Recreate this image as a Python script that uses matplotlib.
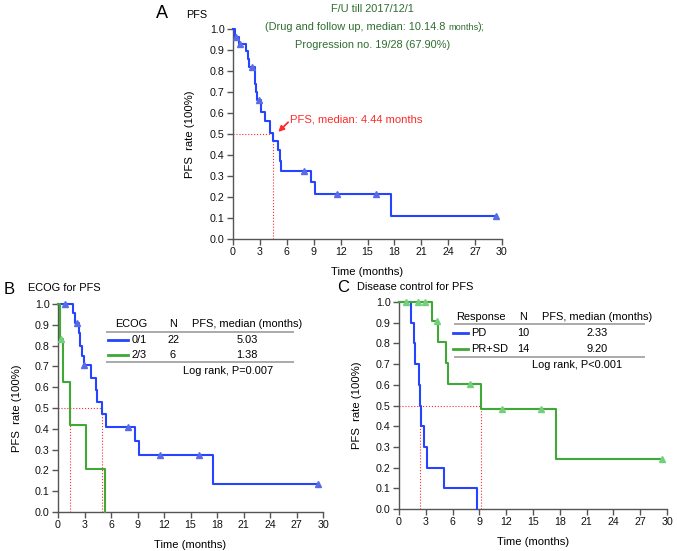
import numpy as np
import matplotlib
matplotlib.use("Agg")
import matplotlib.pyplot as plt
from matplotlib.lines import Line2D

plt.rcParams['font.family'] = ['Liberation Sans', 'DejaVu Sans']

# ---------------- data ----------------
# Panel A: overall PFS
A_event_t = [0.22, 0.63, 1.41, 1.63, 1.80, 2.40, 2.55, 2.70, 3.15, 3.62, 4.10, 4.44, 4.98, 5.20, 5.40, 8.70, 9.18, 17.60]
A_surv    = [0.964, 0.929, 0.893, 0.857, 0.818, 0.737, 0.700, 0.660, 0.606, 0.560, 0.505, 0.466, 0.424, 0.370, 0.325, 0.270, 0.216, 0.108]
A_censor_t = [0.35, 0.80, 2.08, 2.85, 7.96, 11.6, 15.9, 29.3]
A_median = 4.44

# Panel B: ECOG
B1_event_t = [1.70, 1.95, 2.38, 2.53, 2.75, 2.90, 3.77, 4.26, 4.42, 5.03, 5.47, 8.75, 9.17, 17.55]
B1_surv    = [0.955, 0.909, 0.860, 0.800, 0.750, 0.705, 0.645, 0.585, 0.528, 0.470, 0.411, 0.342, 0.274, 0.137]
B1_censor_t = [0.83, 2.20, 2.98, 7.96, 11.6, 15.96, 29.4]
B2_event_t = [0.19, 0.57, 1.38, 3.20, 5.32]
B2_surv    = [0.833, 0.625, 0.417, 0.208, 0.0]
B2_censor_t = [0.30]
B_medians = [5.03, 1.38]
B_groups = ["0/1", "2/3"]
B_n = [22, 6]
B_med_txt = ["5.03", "1.38"]

# Panel C: disease control
C1_event_t = [1.30, 1.64, 1.75, 2.24, 2.33, 2.50, 2.76, 3.17, 5.00, 8.70]
C1_surv    = [0.9, 0.8, 0.7, 0.6, 0.5, 0.4, 0.3, 0.2, 0.1, 0.0]
C2_event_t = [3.73, 4.37, 5.22, 5.45, 9.20, 17.60]
C2_surv    = [0.909, 0.808, 0.707, 0.606, 0.485, 0.242]
C2_censor_t = [0.78, 2.09, 2.87, 4.20, 7.95, 11.57, 15.9, 29.4]
C_medians = [2.33, 9.20]
C_groups = ["PD", "PR+SD"]
C_n = [10, 14]
C_med_txt = ["2.33", "9.20"]

x_ticks = list(range(0, 31, 3))
y_ticks = [i / 10 for i in range(11)]

# ---------------- style ----------------
BLUE = "#2444ff"
BLUE_M = "#5a6be6"
GREEN = "#3fa836"
GREEN_M = "#72d07c"
RED = "#ff2a2a"
DKGREEN = "#2f6e30"
GREY = "#555555"
FS = 7.9

W, H = 677, 551
fig = plt.figure(figsize=(W / 100, H / 100), dpi=100)


def fx(x):
    return x / W


def fy(y):
    return 1 - y / H


def step_xy(ev_t, surv, end_t=None):
    t = [0.0] + list(ev_t)
    s = [1.0] + list(surv)
    if end_t is not None and end_t > t[-1]:
        t.append(end_t)
        s.append(s[-1])
    return t, s


def surv_at(ev_t, surv, t):
    idx = np.searchsorted(np.array(ev_t), t, side='right')
    vals = [1.0] + list(surv)
    return vals[idx]


def draw_km(ax, ev_t, surv, cens_t, color, mcolor):
    end_t = max(cens_t) if cens_t else None
    t, s = step_xy(ev_t, surv, end_t)
    ax.step(t, s, where='post', color=color, lw=1.5, clip_on=False, zorder=3)
    if cens_t:
        cy = [surv_at(ev_t, surv, c) for c in cens_t]
        ax.plot(cens_t, cy, linestyle='none', marker='^', ms=4.5,
                color=mcolor, mec=mcolor, clip_on=False, zorder=4)


def style_ax(ax, xl_y, yl_x):
    ax.set_xlim(0, 30)
    ax.set_ylim(0, 1.0)
    ax.set_xticks(x_ticks)
    ax.set_yticks(y_ticks)
    ax.set_yticklabels([f"{v:.1f}" for v in y_ticks])
    for sp in ['top', 'right']:
        ax.spines[sp].set_visible(False)
    for sp in ['left', 'bottom']:
        ax.spines[sp].set_color(GREY)
        ax.spines[sp].set_linewidth(1.0)
    ax.tick_params(direction='out', length=4, width=1.0, color=GREY,
                   labelsize=7.7, pad=2, labelcolor='#111111')
    ax.set_xlabel("Time (months)", fontsize=8.1)
    ax.set_ylabel("PFS  rate (100%)", fontsize=8.1)
    ax.xaxis.set_label_coords(0.5, xl_y)
    ax.yaxis.set_label_coords(yl_x, 0.5)
    ax.patch.set_alpha(0)


def median_lines(ax, meds):
    ax.plot([0, max(meds)], [0.5, 0.5], color=RED, lw=0.8, ls=':', zorder=2)
    for m in meds:
        ax.plot([m, m], [0, 0.5], color=RED, lw=0.8, ls=':', zorder=2)


# ---------------- Panel A ----------------
axA = fig.add_axes([fx(233), fy(239), 269 / W, 210 / H])
median_lines(axA, [A_median])
draw_km(axA, A_event_t, A_surv, A_censor_t, BLUE, BLUE_M)
style_ax(axA, -0.135, -0.14)
axA.annotate('', xy=(5.05, 0.51), xytext=(6.15, 0.556),
             arrowprops=dict(arrowstyle='-|>', color=RED, lw=1.3, mutation_scale=8,
                             shrinkA=0, shrinkB=0))
axA.text(6.35, 0.567, f"PFS, median: {A_median} months", color=RED,
         fontsize=FS + 0.2, va='center', ha='left')

fig.text(fx(162), fy(14), "A", fontsize=13, ha='center', va='center')
fig.text(fx(197), fy(15), "PFS", fontsize=7.8, ha='center', va='center')
fig.text(fx(372), fy(8.5), "F/U till 2017/12/1", color=DKGREEN, fontsize=FS,
         ha='center', va='center')
fig.text(fx(373), fy(45), "Progression no. 19/28 (67.90%)", color=DKGREEN,
         fontsize=FS, ha='center', va='center')

# line 2 with mixed font sizes
fig.canvas.draw()
rend = fig.canvas.get_renderer()
parts = [("(Drug and follow up, median: 10.14.8 ", FS),
         ("months", 6.6),
         (");", FS)]
texts = []
widths = []
for s, fs in parts:
    t = fig.text(0, fy(30), s, color=DKGREEN, fontsize=fs, ha='left',
                 va='baseline')
    texts.append(t)
    widths.append(t.get_window_extent(rend).width)
total = sum(widths)
x0 = 375 - total / 2
for t, w in zip(texts, widths):
    t.set_position((fx(x0), fy(30)))
    x0 += w

# ---------------- Panel B ----------------
axB = fig.add_axes([fx(58), fy(512), 265 / W, 208 / H])
median_lines(axB, B_medians)
draw_km(axB, B1_event_t, B1_surv, B1_censor_t, BLUE, BLUE_M)
draw_km(axB, B2_event_t, B2_surv, B2_censor_t, GREEN, GREEN_M)
style_ax(axB, -0.135, -0.136)

fig.text(fx(9), fy(289), "B", fontsize=12, ha='center', va='center')
fig.text(fx(28), fy(288), "ECOG for PFS", fontsize=FS, ha='left', va='center')

fs_tab = FS
fig.text(fx(131), fy(324), "ECOG", fontsize=fs_tab, ha='center', va='center')
fig.text(fx(173), fy(324), "N", fontsize=fs_tab, ha='center', va='center')
fig.text(fx(247), fy(324), "PFS, median (months)", fontsize=fs_tab, ha='center', va='center')
fig.add_artist(Line2D([fx(107), fx(293)], [fy(332), fy(332)], color='#aaaaaa', lw=1.4))
for i, (g, n, m, c) in enumerate(zip(B_groups, B_n, B_med_txt, [BLUE, GREEN])):
    yy = 340 + 15 * i
    fig.add_artist(Line2D([fx(108), fx(128)], [fy(yy), fy(yy)], color=c, lw=2.0))
    fig.text(fx(139), fy(yy), g, fontsize=fs_tab, ha='center', va='center')
    fig.text(fx(173), fy(yy), str(n), fontsize=fs_tab, ha='center', va='center')
    fig.text(fx(247), fy(yy), m, fontsize=fs_tab, ha='center', va='center')
fig.add_artist(Line2D([fx(107), fx(293)], [fy(362), fy(362)], color='#aaaaaa', lw=1.4))
fig.text(fx(228), fy(371), "Log rank, P=0.007", fontsize=fs_tab, ha='center', va='center')

# ---------------- Panel C ----------------
axC = fig.add_axes([fx(399), fy(509), 268 / W, 207 / H])
median_lines(axC, C_medians)
draw_km(axC, C1_event_t, C1_surv, [], BLUE, BLUE_M)
draw_km(axC, C2_event_t, C2_surv, C2_censor_t, GREEN, GREEN_M)
style_ax(axC, -0.135, -0.138)

fig.text(fx(343), fy(288), "C", fontsize=12, ha='center', va='center')
fig.text(fx(357), fy(287), "Disease control for PFS", fontsize=FS, ha='left', va='center')

fig.text(fx(481), fy(317), "Response", fontsize=fs_tab, ha='center', va='center')
fig.text(fx(523), fy(317), "N", fontsize=fs_tab, ha='center', va='center')
fig.text(fx(597), fy(317), "PFS, median (months)", fontsize=fs_tab, ha='center', va='center')
fig.add_artist(Line2D([fx(455), fx(644)], [fy(324), fy(324)], color='#aaaaaa', lw=1.4))
for i, (g, n, m, c) in enumerate(zip(C_groups, C_n, C_med_txt, [BLUE, GREEN])):
    yy = 333 + 16 * i
    fig.add_artist(Line2D([fx(453), fx(468)], [fy(yy), fy(yy)], color=c, lw=2.0))
    fig.text(fx(471), fy(yy), g, fontsize=fs_tab, ha='left', va='center')
    fig.text(fx(523), fy(yy), str(n), fontsize=fs_tab, ha='center', va='center')
    fig.text(fx(597), fy(yy), m, fontsize=fs_tab, ha='center', va='center')
fig.add_artist(Line2D([fx(455), fx(644)], [fy(357), fy(357)], color='#aaaaaa', lw=1.4))
fig.text(fx(577), fy(365), "Log rank, P<0.001", fontsize=fs_tab, ha='center', va='center')

fig.savefig("out.png", dpi=100)
